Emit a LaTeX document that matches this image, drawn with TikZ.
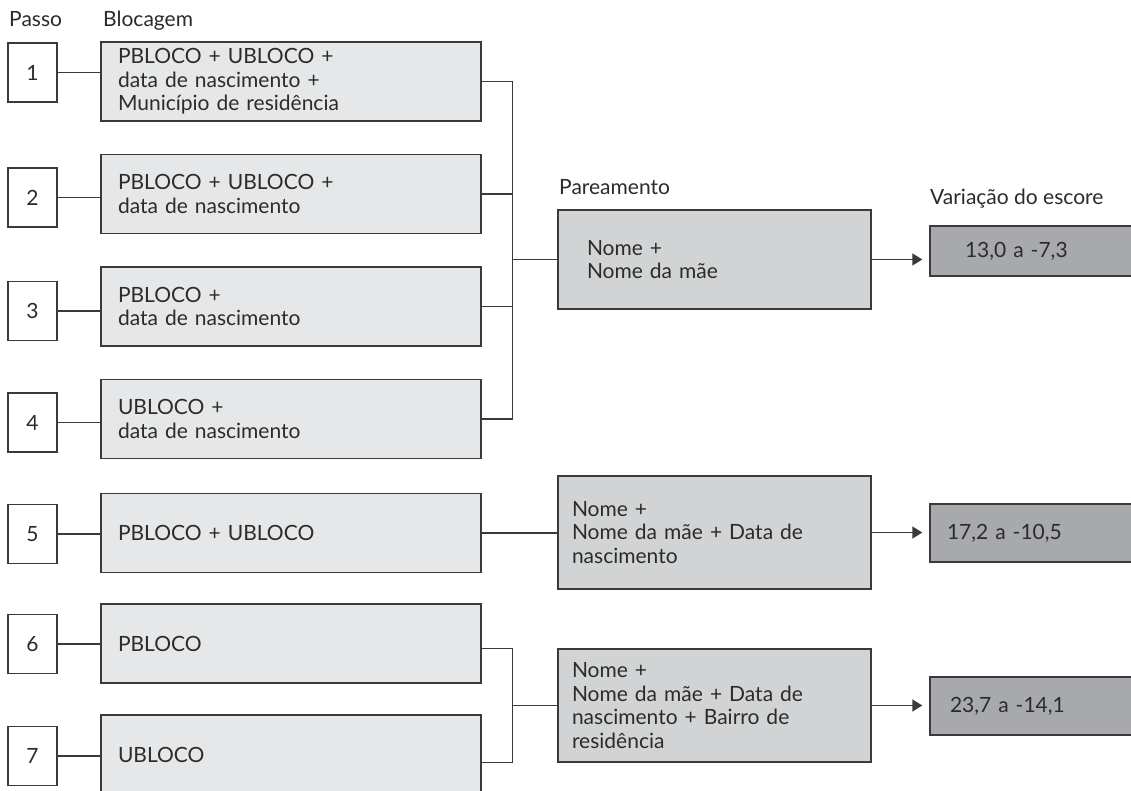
\documentclass[tikz,border=0pt]{standalone}
\usepackage{fontspec}
\setmainfont{Lato}
\usetikzlibrary{arrows.meta,calc}
\definecolor{bfill}{HTML}{E6E7E8}
\definecolor{pfill}{HTML}{D1D3D4}
\definecolor{sfill}{HTML}{A7A9AC}
\definecolor{edge}{HTML}{3A3A3A}
\definecolor{txt}{HTML}{2B2B2B}
\begin{document}
\begin{tikzpicture}[x=1pt,y=-1pt,
  every node/.style={font=\fontsize{21}{23.5}\selectfont, text=txt},
  conn/.style={draw=edge, line width=1.4pt},
  arr/.style={conn, -{Triangle[length=10pt,width=12pt]}, shorten >=7pt},
  passobox/.style={draw=edge, line width=1.4pt, fill=white, minimum width=49pt, minimum height=59pt, inner sep=0pt},
  blocbox/.style={draw=edge, line width=1.4pt, fill=bfill, minimum width=380pt, text width=346pt, inner xsep=17pt, inner ysep=0pt, align=left, minimum height=79pt},
  parbox/.style={draw=edge, line width=1.4pt, fill=pfill, align=left, inner ysep=0pt, minimum width=313pt},
  scorebox/.style={draw=edge, line width=1.4pt, fill=sfill, align=left, inner ysep=0pt, minimum width=230pt},
  header/.style={anchor=base west, inner sep=0pt}
]
\clip (0,0) rectangle (1131,791);
\fill[white] (0,0) rectangle (1131,791);

% headers
\node[header] (hpasso) at (9,27) {Passo};
\node[header] (hbloc) at (103,27) {Blocagem};
\node[header] (hpar) at (559,195) {Pareamento};
\node[header] (hvar) at (930,205) {Variação do escore};

% passo boxes
\node[passobox] (p1) at (32.5,72.5) {1};
\node[passobox] (p2) at (32.5,197.5) {2};
\node[passobox] (p3) at (32.5,311) {3};
\node[passobox] (p4) at (32.5,422.5) {4};
\node[passobox] (p5) at (32.5,534) {5};
\node[passobox] (p6) at (32.5,644) {6};
\node[passobox] (p7) at (32.5,756) {7};

% blocagem boxes
\node[blocbox] (b1) at (291,81.5) {PBLOCO + UBLOCO +\\ data de nascimento +\\ Município de residência};
\node[blocbox] (b2) at (291,194) {PBLOCO + UBLOCO +\\ data de nascimento};
\node[blocbox] (b3) at (291,306.5) {PBLOCO +\\ data de nascimento};
\node[blocbox] (b4) at (291,419) {UBLOCO +\\ data de nascimento};
\node[blocbox] (b5) at (291,533) {PBLOCO + UBLOCO};
\node[blocbox] (b6) at (291,643.5) {PBLOCO};
\node[blocbox] (b7) at (291,754.5) {UBLOCO};

% pareamento boxes
\node[parbox, minimum height=99pt, text width=255pt, inner xsep=29pt] (pA) at (714.5,259.5) {Nome +\\ Nome da mãe};
\node[parbox, minimum height=113pt, text width=285pt, inner xsep=14pt] (pB) at (714.5,532.5) {Nome +\\ Nome da mãe + Data de\\ nascimento};
\node[parbox, minimum height=113pt, text width=285pt, inner xsep=14pt] (pC) at (714.5,705.5) {Nome +\\ Nome da mãe + Data de\\ nascimento + Bairro de\\ residência};

% score boxes
\node[scorebox, text width=160pt, inner xsep=35pt, minimum height=50pt] (s1) at (1045,251) {13,0 a -7,3};
\node[scorebox, text width=196pt, inner xsep=17pt, minimum height=58pt] (s2) at (1045,533) {17,2 a -10,5};
\node[scorebox, text width=190pt, inner xsep=20pt, minimum height=58pt] (s3) at (1045,706) {23,7 a -14,1};

% passo -> blocagem
\foreach \i in {1,...,7}{
  \draw[conn] (p\i.east) -- (p\i.east -| b\i.west);
}

% bracket 1-4
\coordinate (j) at ($(pA.west)+(-45,0)$);
\draw[conn] (b1.east) -| (j) |- (b4.east);
\draw[conn] (b2.east) -- (b2.east -| j);
\draw[conn] (b3.east) -- (b3.east -| j);
\draw[conn] (j) -- (pA.west);

% step 5
\draw[conn] (b5.east) -- (b5.east -| pB.west);

% bracket 6-7
\coordinate (k) at ($(pC.west)+(-45,0)$);
\draw[conn] (pC.north -| b6.east) -| (k) |- (pC.south -| b7.east);
\draw[conn] (k) -- (pC.west);

% arrows
\draw[arr] (pA.east) -- (pA.east -| s1.west);
\draw[arr] (pB.east) -- (pB.east -| s2.west);
\draw[arr] (pC.east) -- (pC.east -| s3.west);
\end{tikzpicture}
\end{document}
